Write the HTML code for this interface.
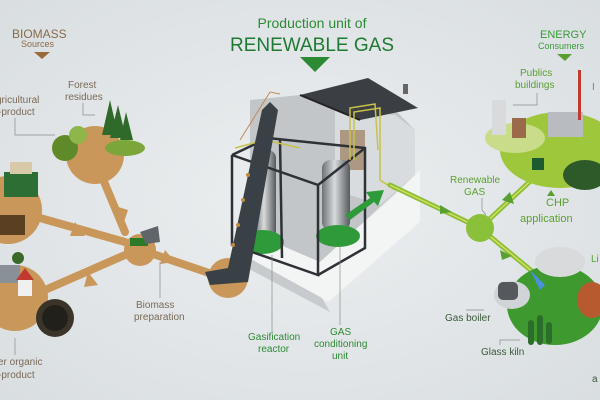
<!DOCTYPE html>
<html><head><meta charset="utf-8"><style>
html,body{margin:0;padding:0;background:#e3e7e9;}
svg{display:block;font-family:"Liberation Sans",sans-serif;}
</style></head><body>
<svg width="600" height="400" viewBox="0 0 600 400">
<defs>
<radialGradient id="bg" cx="50%" cy="50%" r="70%"><stop offset="0" stop-color="#eceff0"/><stop offset="1" stop-color="#d9dee1"/></radialGradient>
<linearGradient id="tank" x1="0" x2="1"><stop offset="0" stop-color="#6d7175"/><stop offset="0.45" stop-color="#d8dadc"/><stop offset="1" stop-color="#55595d"/></linearGradient>
</defs>
<rect width="600" height="400" fill="url(#bg)"/>

<g fill="#c9975a" stroke="none">
<circle cx="95" cy="155" r="29"/>
<circle cx="8" cy="210" r="34"/>
<circle cx="15" cy="298" r="33"/>
<circle cx="140" cy="250" r="16"/>
<circle cx="228" cy="278" r="20"/>
</g>
<g stroke="#c9975a" stroke-width="8" fill="none" stroke-linecap="round">
<line x1="100" y1="172" x2="125" y2="232"/>
<line x1="40" y1="218" x2="125" y2="242"/>
<line x1="45" y1="290" x2="125" y2="255"/>
<line x1="150" y1="253" x2="215" y2="275"/>
<line x1="240" y1="270" x2="255" y2="258"/>
</g>
<g fill="#c9975a">
<polygon points="112,205 128,210 124,222"/>
<polygon points="75,222 85,236 70,236"/>
<polygon points="88,272 98,285 84,287"/>
<polygon points="165,250 175,262 160,264"/>
<polygon points="250,252 262,255 255,266"/>
</g>
<circle cx="65" cy="148" r="13" fill="#5f8a2a"/><circle cx="78" cy="135" r="9" fill="#8fb64a"/>
<g fill="#2f6a2a"><polygon points="110,100 102,135 118,135"/><polygon points="118,105 110,138 126,138"/><polygon points="126,112 120,140 133,140"/></g>
<ellipse cx="125" cy="148" rx="20" ry="8" fill="#7aa63a"/>
<rect x="4" y="172" width="34" height="25" fill="#2d6e35"/><rect x="10" y="162" width="22" height="12" fill="#d8c9a8"/>
<rect x="0" y="215" width="25" height="20" fill="#5a3f22"/>
<rect x="0" y="265" width="20" height="18" fill="#8a9098"/><rect x="18" y="278" width="14" height="18" fill="#f0f0f0"/><polygon points="16,280 25,268 34,280" fill="#c03a30"/>
<circle cx="55" cy="318" r="19" fill="#3a3528"/><circle cx="55" cy="318" r="13" fill="#22201a"/>
<circle cx="18" cy="258" r="6" fill="#3a6a2a"/>
<rect x="130" y="238" width="18" height="8" fill="#2a7a2a"/><polygon points="140,232 158,226 160,242 146,244" fill="#60656a"/>

<polygon points="230,248 328,302 420,222 420,170 390,200 320,260 260,230" fill="#f3f4f4"/>
<polygon points="238,252 322,298 330,312 236,262" fill="#c7cbce"/>
<polygon points="250,100 300,95 395,110 415,130 415,175 320,262 250,232" fill="#c2c6c9"/>
<polygon points="335,110 395,115 415,130 415,175 380,205 335,190" fill="#d9dcde"/>
<rect x="340" y="130" width="25" height="40" fill="#9a7a5a" opacity="0.7"/>
<polygon points="300,95 368,78 418,108 360,120" fill="#3b3e42"/>
<line x1="300" y1="95" x2="360" y2="120" stroke="#222" stroke-width="2"/>
<rect x="403" y="84" width="5" height="10" fill="#666"/>
<rect x="254" y="150" width="22" height="90" rx="8" fill="url(#tank)"/>
<rect x="322" y="160" width="28" height="70" rx="8" fill="url(#tank)"/>
<ellipse cx="262" cy="242" rx="22" ry="12" fill="#2e9a3a"/>
<ellipse cx="338" cy="236" rx="22" ry="11" fill="#2e9a3a"/>
<g stroke="#2e3236" stroke-width="2.5" fill="none">
<polyline points="232,155 232,245 318,275 318,185 232,155"/>
<polyline points="232,155 268,138 365,148 365,248 318,275"/>
<line x1="318" y1="185" x2="365" y2="148"/>
<line x1="280" y1="140" x2="282" y2="258"/>
</g>
<g stroke="#c8c24a" stroke-width="1.5" fill="none">
<polyline points="235,148 265,140 300,148"/>
<polyline points="350,160 350,108 375,104 378,150"/>
<polyline points="354,160 354,112 380,108 380,180 395,190"/>
</g>
<polygon points="205,272 228,268 262,110 270,102 278,110 248,282 210,285" fill="#3a4146"/>
<g fill="#c08a40"><circle cx="243" cy="200" r="2"/><circle cx="238" cy="225" r="2"/><circle cx="233" cy="245" r="2"/><circle cx="248" cy="175" r="2"/></g>
<polyline points="240,140 270,92 280,94" stroke="#c08a50" stroke-width="1" fill="none"/>
<g fill="#2e9a3a"><polygon points="345,215 370,198 366,192 384,190 378,206 374,202 350,220"/></g>

<g stroke="#8ac03a" stroke-width="5" fill="none" stroke-linecap="round">
<polyline points="390,185 480,228 540,172"/>
<line x1="480" y1="228" x2="545" y2="282"/>
</g>
<g stroke="#e6e060" stroke-width="1.2" fill="none">
<polyline points="390,185 480,228 540,172"/>
<line x1="480" y1="228" x2="545" y2="282"/>
</g>
<circle cx="480" cy="228" r="14" fill="#8ac03a"/>
<g fill="#5aa030"><polygon points="440,205 452,212 440,214"/><polygon points="502,200 510,192 514,204"/><polygon points="500,250 512,256 502,260"/></g>

<ellipse cx="560" cy="150" rx="60" ry="38" fill="#9ec73c"/>
<ellipse cx="515" cy="138" rx="30" ry="15" fill="#c8dc8a"/>
<rect x="492" y="100" width="14" height="35" fill="#d8dadc"/><rect x="512" y="118" width="14" height="20" fill="#9a6a4a"/>
<rect x="548" y="112" width="35" height="25" fill="#b8bcc0"/><rect x="578" y="70" width="3" height="50" fill="#c03a30"/>
<ellipse cx="585" cy="175" rx="22" ry="15" fill="#2e5a2a"/>
<rect x="532" y="158" width="12" height="12" fill="#1e5a30"/>
<ellipse cx="555" cy="305" rx="48" ry="40" fill="#3e9a2e"/>
<ellipse cx="512" cy="295" rx="18" ry="14" fill="#d0d4d6"/><rect x="498" y="282" width="20" height="18" rx="5" fill="#55595d"/>
<ellipse cx="560" cy="262" rx="25" ry="15" fill="#d8dadc"/>
<ellipse cx="592" cy="300" rx="15" ry="18" fill="#b85a30"/>
<g fill="#2a6e2a"><rect x="528" y="320" width="6" height="25" rx="3"/><rect x="537" y="315" width="6" height="30" rx="3"/><rect x="546" y="322" width="6" height="22" rx="3"/></g>
<polygon points="530,270 545,285 540,290" fill="#4a90e0"/>

<text x="12" y="38" font-size="12" fill="#8a6a48">BIOMASS</text>
<text x="21" y="47" font-size="9" fill="#8a6a48">Sources</text>
<polygon points="34,52 50,52 42,59" fill="#9a6a3a"/>
<text x="312" y="28" font-size="14" fill="#2c8a35" text-anchor="middle">Production unit of</text>
<text x="312" y="51" font-size="19" fill="#1e7a32" text-anchor="middle">RENEWABLE GAS</text>
<polygon points="300,57 330,57 315,72" fill="#2c8a35"/>
<text x="540" y="38" font-size="11" fill="#3a9a3a">ENERGY</text>
<text x="538" y="49" font-size="9" fill="#3a9a3a">Consumers</text>
<polygon points="557,54 572,54 565,61" fill="#5aa030"/>

<g font-size="10" fill="#7a6a58">
<text x="68" y="88">Forest</text><text x="65" y="100">residues</text>
<text x="-4" y="103">gricultural</text><text x="-2" y="115">-product</text>
<text x="136" y="308">Biomass</text><text x="134" y="320">preparation</text>
<text x="-2" y="365">er organic</text><text x="-2" y="378">-product</text>
</g>
<g stroke="#8a8a8a" stroke-width="0.7" fill="none">
<polyline points="83,103 83,115 95,115"/><polyline points="15,118 15,135 55,135"/><line x1="160" y1="262" x2="160" y2="298"/><line x1="15" y1="338" x2="15" y2="355"/>
<line x1="272" y1="255" x2="272" y2="333"/><line x1="340" y1="245" x2="340" y2="325"/>
<polyline points="482,198 482,210 486,215"/><polyline points="537,93 537,105 513,105"/><polyline points="466,310 484,310"/><polyline points="500,345 500,340 520,340"/>
</g>
<g font-size="10" fill="#2c8a35">
<text x="248" y="340">Gasification</text><text x="258" y="352">reactor</text>
<text x="330" y="335">GAS</text><text x="314" y="347">conditioning</text><text x="332" y="359">unit</text>
</g>
<g font-size="10" fill="#5aa030">
<text x="450" y="183">Renewable</text><text x="464" y="195">GAS</text>
<text x="520" y="76">Publics</text><text x="515" y="88">buildings</text>
<text x="546" y="206" font-size="11">CHP</text><text x="520" y="222" font-size="11">application</text>
<text x="592" y="90">I</text><text x="591" y="262">Li</text>
</g>
<polygon points="547,196 555,196 551,190" fill="#5aa030"/>
<g font-size="10" fill="#3a5a3a">
<text x="445" y="321">Gas boiler</text><text x="481" y="355">Glass kiln</text><text x="592" y="382">a</text>
</g>
</svg>
</body></html>
